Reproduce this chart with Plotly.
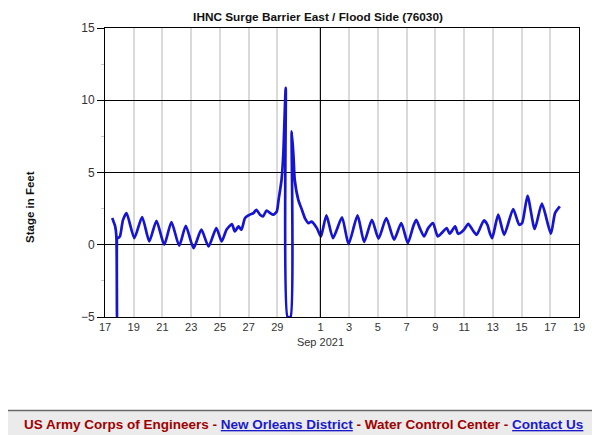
import plotly.graph_objects as go

# ---- data ----
times = [
    "2021-08-17 12:00", "2021-08-17 17:00", "2021-08-17 19:00", "2021-08-17 20:00",
    "2021-08-17 21:00", "2021-08-17 22:00", "2021-08-18 01:00", "2021-08-18 06:00",
    "2021-08-18 12:00", "2021-08-19 01:00", "2021-08-19 14:00", "2021-08-20 02:00",
    "2021-08-20 14:00", "2021-08-21 03:00", "2021-08-21 15:00", "2021-08-22 04:00",
    "2021-08-22 15:00", "2021-08-23 04:00", "2021-08-23 17:00", "2021-08-24 05:00",
    "2021-08-24 18:00", "2021-08-25 03:00", "2021-08-25 11:00", "2021-08-25 20:00",
    "2021-08-26 01:00", "2021-08-26 07:00", "2021-08-26 12:00", "2021-08-26 18:00",
    "2021-08-27 02:00", "2021-08-27 08:00", "2021-08-27 13:00", "2021-08-27 19:00",
    "2021-08-28 00:00", "2021-08-28 06:00", "2021-08-28 12:00", "2021-08-28 17:00",
    "2021-08-28 23:00", "2021-08-29 02:00", "2021-08-29 07:00", "2021-08-29 10:00",
    "2021-08-29 14:00", "2021-08-29 17:00", "2021-08-29 22:00", "2021-08-30 00:00",
    "2021-08-30 03:00", "2021-08-30 05:00", "2021-08-30 11:00", "2021-08-30 17:00",
    "2021-08-30 22:00", "2021-08-31 04:00", "2021-08-31 09:00", "2021-08-31 18:00",
    "2021-08-31 23:00", "2021-09-01 01:00", "2021-09-01 10:00", "2021-09-01 21:00",
    "2021-09-02 12:00", "2021-09-02 23:00", "2021-09-03 14:00", "2021-09-04 01:00",
    "2021-09-04 14:00", "2021-09-05 01:00", "2021-09-05 14:00", "2021-09-06 03:00",
    "2021-09-06 15:00", "2021-09-07 02:00", "2021-09-07 11:00", "2021-09-07 16:00",
    "2021-09-07 22:00", "2021-09-08 05:00", "2021-09-08 12:00", "2021-09-08 20:00",
    "2021-09-09 04:00", "2021-09-09 13:00", "2021-09-09 19:00", "2021-09-10 00:00",
    "2021-09-10 09:00", "2021-09-10 14:00", "2021-09-10 23:00", "2021-09-11 07:00",
    "2021-09-11 14:00", "2021-09-11 21:00", "2021-09-12 09:00", "2021-09-12 15:00",
    "2021-09-12 19:00", "2021-09-12 23:00", "2021-09-13 09:00", "2021-09-13 19:00",
    "2021-09-14 10:00", "2021-09-14 20:00", "2021-09-15 01:00", "2021-09-15 10:00",
    "2021-09-15 22:00", "2021-09-16 10:00", "2021-09-17 01:00", "2021-09-17 08:00",
    "2021-09-17 16:00",
]
stage = [
    1.85, 1.27, 0.60, -5.0,
    0.50, 0.48, 0.58, 1.70,
    2.19, 0.46, 1.92, 0.23,
    1.66, 0.00, 1.57, -0.07,
    1.31, -0.23, 1.04, -0.12,
    1.15, 0.23, 1.04, 1.43,
    0.92, 1.27, 1.04, 1.85,
    2.08, 2.19, 2.42, 2.08,
    1.96, 2.37, 2.19, 2.08,
    2.30, 3.10, 4.50, 6.35,
    10.85, -5.0, -5.0, 7.84,
    6.10, 4.50, 3.11, 2.42,
    1.85, 1.50, 1.60, 1.15,
    0.69, 0.58, 2.03, 0.46,
    1.89, 0.05, 2.03, 0.19,
    1.73, 0.42, 1.85, 0.35,
    1.50, 0.12, 1.27, 1.73,
    1.15, 0.58, 1.15, 1.50,
    0.58, 0.92, 1.15, 0.76,
    1.27, 0.76, 1.00, 1.45,
    1.04, 0.69, 1.68, 1.38,
    0.81, 0.46, 2.08, 0.69,
    2.47, 1.38, 1.50, 3.39,
    1.09, 2.84, 0.76, 2.19,
    2.65,
]

tick_dates = ["2021-08-17", "2021-08-19", "2021-08-21", "2021-08-23", "2021-08-25",
              "2021-08-27", "2021-08-29", "2021-09-01", "2021-09-03", "2021-09-05",
              "2021-09-07", "2021-09-09", "2021-09-11", "2021-09-13", "2021-09-15",
              "2021-09-17", "2021-09-19"]
tick_labels = ["17", "19", "21", "23", "25", "27", "29", "1<br>Sep 2021", "3", "5",
               "7", "9", "11", "13", "15", "17", "19"]
month_line = "2021-09-01"

title_text = "IHNC Surge Barrier East / Flood Side (76030)"
y_label = "Stage in Feet"

# ---- layout geometry (page pixels; the page body has an 8px margin) ----
OFF = 8
W, H = 600 - OFF, 435 - OFF
L, R, T, B = 105 - OFF, 21, 28 - OFF, 118
pw, ph = W - L - R, H - T - B

def px_x(x):
    return (x - OFF - L) / pw

def px_y(y):
    return (H - B - (y - OFF)) / ph

fig = go.Figure()
fig.add_trace(go.Scatter(
    x=times, y=stage, mode="lines",
    line=dict(color="#1414d2", width=2.7, shape="spline", smoothing=0.6),
    showlegend=False, hoverinfo="x+y",
))

arial = "Liberation Sans, Arial, sans-serif"

fig.update_layout(
    width=W, height=H,
    margin=dict(l=L, r=R, t=T, b=B, pad=0),
    paper_bgcolor="#ebebeb",
    plot_bgcolor="white",
    title=dict(text="<b>" + title_text + "</b>", x=(318 - OFF) / W, xref="container",
               xanchor="center", y=1 - (17 - OFF) / H, yanchor="middle",
               font=dict(family=arial, size=11.8, color="#111")),
    xaxis=dict(
        range=["2021-08-17", "2021-09-19"],
        tickvals=tick_dates, ticktext=tick_labels,
        showgrid=True, gridcolor="#dadada", gridwidth=1.5,
        showline=True, linecolor="black", linewidth=1, mirror=True,
        ticks="", tickfont=dict(family=arial, size=11, color="#333"),
        zeroline=False, tickangle=0,
    ),
    yaxis=dict(
        range=[-5, 15], dtick=5, tick0=0,
        showgrid=True, gridcolor="black", gridwidth=1,
        showline=True, linecolor="black", linewidth=1, mirror=True,
        ticks="outside", ticklen=7, tickcolor="black", tickwidth=1,
        tickfont=dict(family=arial, size=12, color="#333"),
        zeroline=False,
        minor=dict(dtick=2.5, ticks="outside", ticklen=3, tickcolor="#c8c8c8", showgrid=False),
    ),
    shapes=[
        dict(type="rect", xref="paper", yref="paper", layer="below",
             x0=px_x(2), x1=px_x(598.5), y0=px_y(1), y1=px_y(410.5),
             fillcolor="white", line=dict(color="#6a6a6a", width=1.5)),
        dict(type="line", xref="x", yref="paper", x0=month_line, x1=month_line,
             y0=0, y1=1, line=dict(color="black", width=1)),
    ],
    annotations=[
        dict(text="<b>" + y_label + "</b>", xref="paper", yref="paper",
             x=px_x(30), y=px_y(207), textangle=-90, showarrow=False,
             xanchor="center", yanchor="middle",
             font=dict(family=arial, size=11.5, color="#111")),
        dict(text=('<span style="color:#a00000">US Army Corps of Engineers - </span>'
                   '<span style="color:#1a1acc;text-decoration:underline">New Orleans District</span>'
                   '<span style="color:#a00000"> - Water Control Center - </span>'
                   '<span style="color:#1a1acc;text-decoration:underline">Contact Us</span>'),
             xref="paper", yref="paper", x=px_x(303), y=px_y(424),
             showarrow=False, xanchor="center", yanchor="middle",
             font=dict(family=arial, size=13.5, color="#a00000", weight="bold")),
    ],
)

fig.write_html("out.html")
